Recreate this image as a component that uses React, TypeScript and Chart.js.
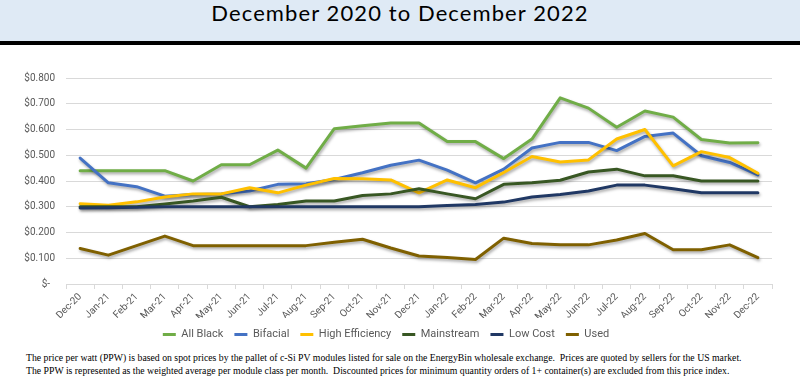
import React, { useEffect, useRef } from "react";
import { Chart, registerables } from "chart.js";

Chart.register(...registerables);

const months = [
  "Dec-20", "Jan-21", "Feb-21", "Mar-21", "Apr-21", "May-21", "Jun-21", "Jul-21", "Aug-21",
  "Sep-21", "Oct-21", "Nov-21", "Dec-21", "Jan-22", "Feb-22", "Mar-22", "Apr-22", "May-22",
  "Jun-22", "Jul-22", "Aug-22", "Sep-22", "Oct-22", "Nov-22", "Dec-22",
];

const allBlack = [0.44, 0.44, 0.44, 0.44, 0.40, 0.463, 0.463, 0.52, 0.45, 0.603, 0.615, 0.625, 0.625, 0.553, 0.553, 0.487, 0.563, 0.723, 0.683, 0.609, 0.672, 0.648, 0.561, 0.548, 0.549];
const bifacial = [0.489, 0.393, 0.378, 0.341, 0.348, 0.35, 0.361, 0.387, 0.389, 0.406, 0.432, 0.461, 0.481, 0.442, 0.393, 0.446, 0.528, 0.55, 0.55, 0.518, 0.573, 0.586, 0.498, 0.472, 0.424];
const highEfficiency = [0.312, 0.306, 0.319, 0.338, 0.35, 0.35, 0.374, 0.354, 0.384, 0.41, 0.409, 0.404, 0.354, 0.404, 0.374, 0.433, 0.495, 0.474, 0.482, 0.563, 0.6, 0.459, 0.514, 0.491, 0.43];
const mainstream = [0.30, 0.30, 0.30, 0.311, 0.322, 0.337, 0.30, 0.309, 0.322, 0.322, 0.344, 0.35, 0.37, 0.35, 0.331, 0.387, 0.393, 0.403, 0.435, 0.446, 0.42, 0.42, 0.40, 0.40, 0.40];
const lowCost = [0.295, 0.296, 0.298, 0.30, 0.30, 0.30, 0.30, 0.30, 0.30, 0.30, 0.30, 0.30, 0.30, 0.305, 0.309, 0.318, 0.338, 0.348, 0.361, 0.384, 0.384, 0.37, 0.354, 0.354, 0.354];
const used = [0.138, 0.112, 0.149, 0.186, 0.149, 0.149, 0.149, 0.149, 0.149, 0.162, 0.174, 0.14, 0.109, 0.103, 0.095, 0.178, 0.157, 0.152, 0.152, 0.171, 0.196, 0.133, 0.133, 0.152, 0.102];

const seriesNames = ["All Black", "Bifacial", "High Efficiency", "Mainstream", "Low Cost", "Used"];
const seriesValues = [allBlack, bifacial, highEfficiency, mainstream, lowCost, used];
const seriesColors = ["#70AD47", "#4472C4", "#FFC000", "#385723", "#203864", "#7F6000"];

const titleText = "December 2020 to December 2022";
const noteLine1 =
  "The price per watt (PPW) is based on spot prices by the pallet of c-Si PV modules listed for sale on the EnergyBin wholesale exchange.  Prices are quoted by sellers for the US market.";
const noteLine2 =
  "The PPW is represented as the weighted average per module class per month.  Discounted prices for minimum quantity orders of 1+ container(s) are excluded from this price index.";

const shadowPlugin = {
  id: "lineShadow",
  beforeDatasetDraw(chart: any) {
    const c = chart.ctx;
    c.save();
    c.shadowColor = "rgba(0,0,0,0.35)";
    c.shadowBlur = 3;
    c.shadowOffsetX = 1;
    c.shadowOffsetY = 2;
  },
  afterDatasetDraw(chart: any) {
    chart.ctx.restore();
  },
};

function PriceChart() {
  const ref = useRef<HTMLCanvasElement | null>(null);
  useEffect(() => {
    if (!ref.current) return;
    const n = seriesNames.length;
    const chart = new Chart(ref.current, {
      type: "line",
      data: {
        labels: months,
        datasets: seriesNames.map((name, i) => ({
          label: name,
          data: seriesValues[i],
          borderColor: seriesColors[i],
          backgroundColor: seriesColors[i],
          borderWidth: 3,
          pointRadius: 0,
          tension: 0,
          fill: false,
          borderJoinStyle: "round" as const,
          borderCapStyle: "round" as const,
          order: n - i,
        })),
      },
      options: {
        responsive: true,
        maintainAspectRatio: false,
        animation: false,
        layout: { padding: { left: 0, right: 28, top: 33, bottom: 0 } },
        plugins: {
          tooltip: { enabled: false },
          legend: {
            display: true,
            position: "bottom",
            labels: {
              usePointStyle: true,
              pointStyle: "line",
              pointStyleWidth: 13,
              padding: 11,
              color: "#595959",
              font: { family: "Roboto", size: 11 },
              sort: (a: any, b: any) => a.datasetIndex - b.datasetIndex,
            },
          },
        },
        scales: {
          x: {
            offset: true,
            grid: { offset: true, drawOnChartArea: false, drawTicks: true, tickLength: 5, color: "#d9d9d9" },
            border: { display: true, color: "#d9d9d9" },
            ticks: {
              autoSkip: false,
              minRotation: 45,
              maxRotation: 45,
              padding: 2,
              color: "#595959",
              font: { family: "Roboto", size: 10 },
            },
            afterFit: (s: any) => {
              s.height = 34;
            },
          },
          y: {
            min: 0,
            max: 0.8,
            grid: { color: "#d9d9d9", drawTicks: false },
            border: { display: false },
            ticks: {
              stepSize: 0.1,
              padding: 11,
              color: "#595959",
              font: { family: "Roboto", size: 10 },
              callback: (v: any) => (Number(v) === 0 ? "$-  " : "$" + Number(v).toFixed(3)),
            },
            afterFit: (s: any) => {
              s.width = 66;
            },
          },
        },
      },
      plugins: [shadowPlugin],
    });
    return () => chart.destroy();
  }, []);
  return <canvas ref={ref} />;
}

export default function App() {
  return (
    <div
      style={{
        position: "fixed",
        left: 0,
        top: 0,
        width: 800,
        height: 389,
        background: "#ffffff",
        overflow: "hidden",
      }}
    >
      <div
        style={{
          position: "absolute",
          left: 0,
          top: 0,
          width: 800,
          height: 41,
          background: "#dfeaf5",
          borderBottom: "4px solid #000",
          textAlign: "center",
          fontFamily: "Lato, sans-serif",
          fontSize: 22,
          letterSpacing: "1.1px",
          lineHeight: "25px",
          color: "#000",
        }}
      >
        {titleText}
      </div>
      <div style={{ position: "absolute", left: 0, top: 45, width: 800, height: 305 }}>
        <PriceChart />
      </div>
      <div
        style={{
          position: "absolute",
          left: 26,
          top: 352,
          fontFamily: '"Liberation Serif", "Times New Roman", serif',
          fontSize: 9.75,
          lineHeight: "12.5px",
          color: "#000",
          whiteSpace: "pre",
        }}
      >
        <div>{noteLine1}</div>
        <div>{noteLine2}</div>
      </div>
    </div>
  );
}
